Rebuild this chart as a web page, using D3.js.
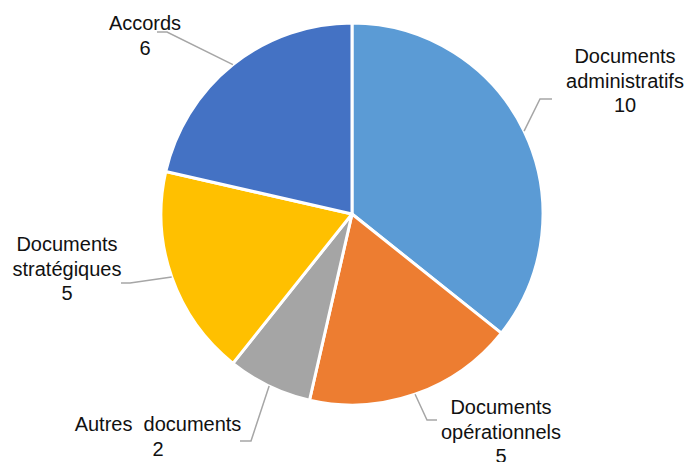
<!DOCTYPE html>
<html>
<head>
<meta charset="utf-8">
<script src="https://cdn.jsdelivr.net/npm/d3@7/dist/d3.min.js"></script>
<style>
  html, body { margin: 0; padding: 0; background: #fff; }
  svg { display: block; }
</style>
</head>
<body>
<svg id="chart" width="686" height="462"></svg>
<script>
// Répartition des documents par type
const categories = [
  "Documents administratifs",
  "Documents opérationnels",
  "Autres documents",
  "Documents stratégiques",
  "Accords"
];
const values = [10, 5, 2, 5, 6];
const labelLines = [
  ["Documents", "administratifs"],
  ["Documents", "opérationnels"],
  ["Autres  documents"],
  ["Documents", "stratégiques"],
  ["Accords"]
];
const colors = ["#5B9BD5", "#ED7D31", "#A5A5A5", "#FFC000", "#4472C4"];

// Label placement: text centre x, first baseline y, leader elbow and end points
const labelLayout = [
  { x: 625, y: 63,  elbow: [540, 99],  end: [552, 99] },
  { x: 501, y: 414, elbow: [427, 420], end: [437, 420] },
  { x: 158, y: 431, elbow: [251, 441], end: [240, 441] },
  { x: 67,  y: 251, elbow: [130, 283], end: [121, 283] },
  { x: 145, y: 30,  elbow: [167, 32],  end: [157, 32] }
];

const cx = 352, cy = 214, radius = 191;
const lineHeight = 24.5;

const data = categories.map((c, i) => ({ category: c, value: values[i], index: i }));

const pie = d3.pie().value(d => d.value).sort(null);
const arcs = pie(data);
const arc = d3.arc().innerRadius(0).outerRadius(radius);
const edgeArc = d3.arc().innerRadius(radius).outerRadius(radius);

const svg = d3.select("#chart");
const g = svg.append("g").attr("transform", `translate(${cx},${cy})`);

g.selectAll("path.slice")
  .data(arcs)
  .join("path")
  .attr("class", "slice")
  .attr("d", arc)
  .attr("fill", d => colors[d.data.index])
  .attr("stroke", "#fff")
  .attr("stroke-width", 3)
  .attr("stroke-linejoin", "round");

// Leader lines from the slice edge to the label
svg.selectAll("polyline.leader")
  .data(arcs)
  .join("polyline")
  .attr("class", "leader")
  .attr("points", d => {
    const [ex, ey] = edgeArc.centroid(d);
    const L = labelLayout[d.data.index];
    return [[cx + ex, cy + ey], L.elbow, L.end].map(p => p.join(",")).join(" ");
  })
  .attr("fill", "none")
  .attr("stroke", "#A6A6A6")
  .attr("stroke-width", 1.5);

// Labels: category name and value
const labels = svg.selectAll("text.label")
  .data(arcs)
  .join("text")
  .attr("class", "label")
  .attr("text-anchor", "middle")
  .attr("font-family", "Liberation Sans, Arial, sans-serif")
  .attr("font-size", 20)
  .attr("fill", "#111")
  .style("white-space", "pre");

labels.each(function(d) {
  const L = labelLayout[d.data.index];
  const lines = labelLines[d.data.index].concat([String(d.data.value)]);
  const t = d3.select(this);
  lines.forEach((s, k) => {
    t.append("tspan")
      .attr("x", L.x)
      .attr("y", L.y + k * lineHeight)
      .text(s);
  });
});
</script>
</body>
</html>
